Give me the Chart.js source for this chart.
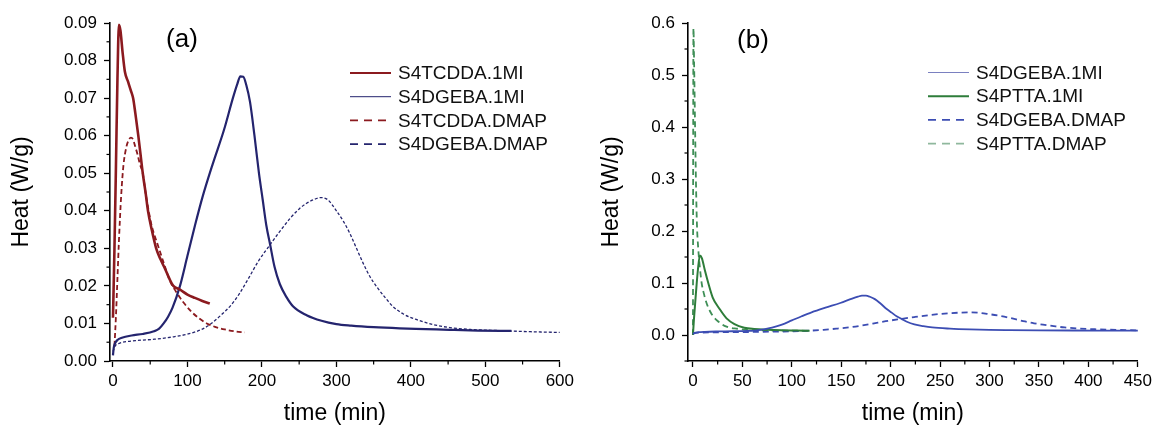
<!DOCTYPE html>
<html>
<head>
<meta charset="utf-8">
<script src="https://cdn.jsdelivr.net/npm/chart.js@4.4.1/dist/chart.umd.min.js"></script>
<style>
  html, body { margin: 0; padding: 0; background: #fff; }
  #wrap { position: relative; width: 1156px; height: 430px; }
  canvas { position: absolute; top: 0; }
  #chartA { left: 0; }
  #chartB { left: 578px; }
</style>
</head>
<body>
<div id="wrap">
  <canvas id="chartA" width="578" height="430"></canvas>
  <canvas id="chartB" width="578" height="430"></canvas>
</div>
<script>
// ---- data (time in min, heat flow in W/g) ----
const tcdda1miT = [0, 2, 4, 6, 8, 10, 13, 16, 20, 24, 27, 30, 34, 37, 40, 44, 47, 52, 58, 64, 70, 76, 81, 90, 100, 110, 120, 130];
const tcdda1miY = [0.0115, 0.030, 0.052, 0.075, 0.0895, 0.088, 0.082, 0.077, 0.0745, 0.072, 0.070, 0.066, 0.060, 0.055, 0.050, 0.0445, 0.040, 0.035, 0.030, 0.027, 0.0245, 0.0218, 0.020, 0.019, 0.0177, 0.0168, 0.016, 0.0153];

const tcddaDmapT = [2, 4, 6, 8, 11, 14, 18, 21, 24, 27, 30, 33, 36, 40, 44, 47, 52, 60, 70, 76, 83, 95, 106, 116, 126, 137, 150, 163, 177];
const tcddaDmapY = [0.004, 0.012, 0.022, 0.032, 0.044, 0.052, 0.057, 0.0588, 0.0595, 0.059, 0.057, 0.055, 0.0525, 0.050, 0.0445, 0.041, 0.036, 0.031, 0.025, 0.0215, 0.019, 0.0155, 0.013, 0.0113, 0.010, 0.0091, 0.0084, 0.0079, 0.0076];

const dgeba1miT = [0, 1, 3, 6, 12, 25, 40, 55, 62, 68, 74, 80, 90, 100, 110, 120, 134, 149, 161, 167, 171, 175, 179, 184, 190, 196, 201, 206, 211, 217, 224, 233, 242, 260, 280, 300, 320, 350, 385, 420, 452, 490, 535];
const dgeba1miY = [0.0015, 0.0035, 0.0048, 0.0056, 0.0062, 0.0068, 0.0072, 0.0079, 0.0086, 0.010, 0.0118, 0.0142, 0.020, 0.028, 0.036, 0.0435, 0.0525, 0.0615, 0.070, 0.0738, 0.0758, 0.0757, 0.0735, 0.069, 0.060, 0.050, 0.043, 0.036, 0.031, 0.025, 0.0205, 0.017, 0.0145, 0.0122, 0.0107, 0.0098, 0.0094, 0.009, 0.0087, 0.0085, 0.0083, 0.0081, 0.008];

const dgebaDmapT = [0, 3, 10, 30, 56, 80, 101, 120, 132, 145, 159, 170, 182, 195, 211, 224, 238, 250, 260, 270, 278, 288, 300, 310, 318, 327, 336, 345, 354, 365, 376, 390, 408, 430, 452, 480, 520, 560, 600];
const dgebaDmapY = [0.0025, 0.004, 0.0048, 0.0054, 0.0058, 0.0064, 0.0072, 0.0085, 0.010, 0.0122, 0.015, 0.018, 0.022, 0.0265, 0.031, 0.0345, 0.038, 0.0405, 0.042, 0.043, 0.0435, 0.043, 0.040, 0.037, 0.034, 0.030, 0.026, 0.0225, 0.0198, 0.017, 0.0145, 0.0125, 0.011, 0.0097, 0.0089, 0.0084, 0.0081, 0.0078, 0.0076];

const ptta1miT = [0, 1, 3, 5, 7, 9, 12, 15.5, 20, 27, 34, 42, 52, 62, 75, 90, 105, 118];
const ptta1miY = [0.0, 0.03, 0.08, 0.125, 0.153, 0.148, 0.125, 0.100, 0.072, 0.050, 0.032, 0.021, 0.014, 0.0115, 0.010, 0.009, 0.0085, 0.008];

const pttaDmapT = [0, 0.5, 1.2, 2, 3, 4, 5.4, 7, 8.8, 11, 14, 19, 25, 34, 45, 55, 70, 90, 118];
const pttaDmapY = [0.0, 0.59, 0.52, 0.42, 0.30, 0.215, 0.165, 0.13, 0.10, 0.08, 0.06, 0.04, 0.027, 0.016, 0.012, 0.010, 0.009, 0.0085, 0.008];

// ---- ticks ----
const xTicksA = [0, 100, 200, 300, 400, 500, 600];
const xMinorA = [50, 150, 250, 350, 450, 550];
const yTicksA = [0, 0.01, 0.02, 0.03, 0.04, 0.05, 0.06, 0.07, 0.08, 0.09];
const yMinorA = [0.005, 0.015, 0.025, 0.035, 0.045, 0.055, 0.065, 0.075, 0.085];

const xTicksB = [0, 50, 100, 150, 200, 250, 300, 350, 400, 450];
const xMinorB = [25, 75, 125, 175, 225, 275, 325, 375, 425];
const yTicksB = [0, 0.1, 0.2, 0.3, 0.4, 0.5, 0.6];
const yMinorB = [-0.05, 0.05, 0.15, 0.25, 0.35, 0.45, 0.55];

const FONT = '"Liberation Sans", Arial, sans-serif';

const pts = (t, y) => t.map((v, i) => ({ x: v, y: y[i] }));

function line(label, t, y, color, width, dash, legend) {
  return Object.assign({
    label, data: pts(t, y),
    borderColor: color, borderWidth: width, borderDash: dash || [],
    pointRadius: 0, fill: false, cubicInterpolationMode: 'monotone'
  }, legend || {});
}

// minor ticks, panel letter and legend
const decor = {
  id: 'decor',
  afterDraw(chart, args, o) {
    const ctx = chart.ctx;
    const xs = chart.scales.x, ys = chart.scales.y;
    ctx.save();
    ctx.strokeStyle = '#000';
    ctx.lineWidth = 1.2;
    o.minorX.forEach(v => {
      const px = xs.getPixelForValue(v);
      ctx.beginPath(); ctx.moveTo(px, xs.top); ctx.lineTo(px, xs.top + 3.5); ctx.stroke();
    });
    o.minorY.forEach(v => {
      const py = ys.getPixelForValue(v);
      ctx.beginPath(); ctx.moveTo(ys.right, py); ctx.lineTo(ys.right - 3.5, py); ctx.stroke();
    });

    ctx.fillStyle = '#000';
    ctx.font = '26px ' + FONT;
    ctx.textAlign = 'center';
    ctx.textBaseline = 'middle';
    ctx.fillText(o.label, o.labelX, o.labelY);

    ctx.font = '19px ' + FONT;
    ctx.textAlign = 'left';
    chart.data.datasets.forEach((ds, i) => {
      const y = o.legendY + i * 23.7;
      ctx.strokeStyle = ds.legendColor || ds.borderColor;
      ctx.lineWidth = ds.legendWidth || ds.borderWidth;
      ctx.setLineDash(ds.legendDash || []);
      ctx.beginPath(); ctx.moveTo(o.legendX, y); ctx.lineTo(o.legendX + 41, y); ctx.stroke();
      ctx.setLineDash([]);
      ctx.fillStyle = '#111';
      ctx.fillText(ds.label, o.legendX + 48, y + 1);
    });
    ctx.restore();
  }
};

function axes(xMin, xMax, xTicks, yMin, yMax, yTicks, digits, yTitlePad) {
  const tickFont = { family: FONT, size: 17 };
  const grid = { display: true, drawOnChartArea: false, drawTicks: true, tickLength: 6, color: '#000', tickWidth: 1.3 };
  return {
    x: {
      type: 'linear', min: xMin, max: xMax,
      afterBuildTicks: s => { s.ticks = xTicks.map(v => ({ value: v })); },
      afterFit: s => { s.height = 69; },
      grid,
      border: { display: true, color: '#000', width: 1.6 },
      ticks: { color: '#000', font: tickFont, padding: 4, maxRotation: 0, autoSkip: false },
      title: { display: true, text: 'time (min)', color: '#000', font: { family: FONT, size: 23 }, padding: { top: 0, bottom: 3 } }
    },
    y: {
      type: 'linear', min: yMin, max: yMax,
      afterBuildTicks: s => { s.ticks = yTicks.map(v => ({ value: v })); },
      afterFit: s => { s.width = 110; },
      grid,
      border: { display: true, color: '#000', width: 1.6 },
      ticks: { color: '#000', font: tickFont, padding: 7, autoSkip: false, callback: v => v.toFixed(digits) },
      title: { display: true, text: 'Heat (W/g)', color: '#000', font: { family: FONT, size: 23 }, padding: { top: yTitlePad, bottom: 0 } }
    }
  };
}

function makeChart(id, datasets, scales, decorOpts) {
  return new Chart(document.getElementById(id), {
    type: 'line',
    data: { datasets },
    options: {
      responsive: false,
      animation: false,
      layout: { padding: { left: 0, right: 18, top: 23, bottom: 0 } },
      scales,
      plugins: { legend: { display: false }, tooltip: { enabled: false }, decor: decorOpts }
    },
    plugins: [decor]
  });
}

const red = '#8b1a1f', navy = '#24246e', blue = '#3c4db3', green = '#2e7d3a';

makeChart('chartA', [
  line('S4TCDDA.1MI', tcdda1miT, tcdda1miY, red, 2.6, [], { legendWidth: 2 }),
  line('S4DGEBA.1MI', dgeba1miT, dgeba1miY, navy, 2.2, [], { legendWidth: 1 }),
  line('S4TCDDA.DMAP', tcddaDmapT, tcddaDmapY, red, 1.8, [5, 3], { legendWidth: 1.6, legendDash: [8, 6] }),
  line('S4DGEBA.DMAP', dgebaDmapT, dgebaDmapY, navy, 1.3, [3, 2], { legendWidth: 1.6, legendDash: [8, 6] })
], axes(-4, 600, xTicksA, 0, 0.09, yTicksA, 2, 8), {
  minorX: xMinorA, minorY: yMinorA, label: '(a)', labelX: 182, labelY: 40, legendX: 350, legendY: 73
});

makeChart('chartB', [
  line('S4DGEBA.1MI', dgeba1miT, dgeba1miY, blue, 1.8, [], { legendColor: '#7a80c0', legendWidth: 1.2 }),
  line('S4PTTA.1MI', ptta1miT, ptta1miY, green, 2, [], { legendWidth: 2 }),
  line('S4DGEBA.DMAP', dgebaDmapT, dgebaDmapY, blue, 1.8, [6, 4], { legendWidth: 1.6, legendDash: [8, 6] }),
  line('S4PTTA.DMAP', pttaDmapT, pttaDmapY, '#3f8f57', 1.8, [6, 4], { legendColor: '#8fb89d', legendWidth: 1.6, legendDash: [8, 6] })
], axes(-5, 450, xTicksB, -0.05, 0.6, yTicksB, 1, 20), {
  minorX: xMinorB, minorY: yMinorB, label: '(b)', labelX: 175, labelY: 41, legendX: 350, legendY: 72.5
});
</script>
</body>
</html>
